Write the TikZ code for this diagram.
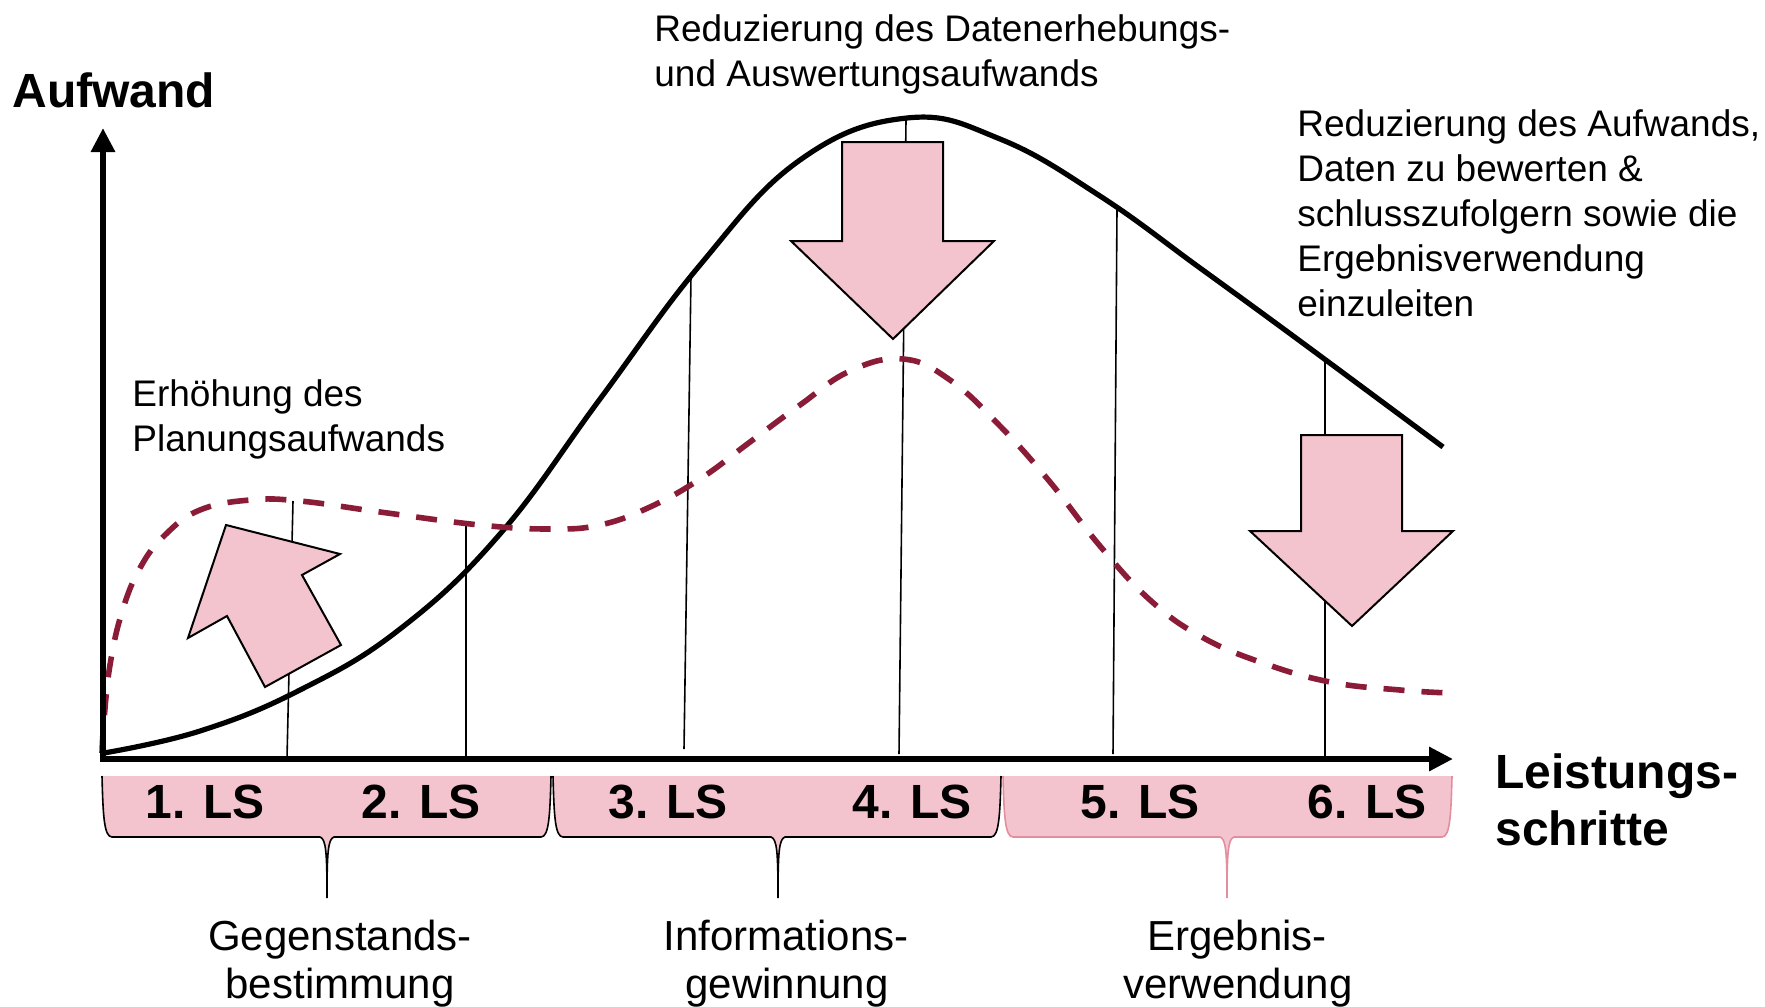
\documentclass[tikz,border=0pt]{standalone}
\usepackage{fontspec}
\setmainfont{Liberation Sans}
\usetikzlibrary{arrows.meta}
\definecolor{pinkfill}{HTML}{F4C4CE}
\definecolor{dashred}{HTML}{8A1C38}
\definecolor{pinkline}{HTML}{E38E9E}
\tikzset{
  axisline/.style={line width=3pt, line join=miter},
  tickline/.style={line width=0.8pt, black},
  solidcurve/.style={line width=2.6pt, black},
  dashcurve/.style={line width=2.8pt, dashred, dash pattern=on 10.5pt off 8.5pt},
  bigarrow/.style={fill=pinkfill, draw=black, line width=1pt, line join=miter},
  note/.style={font=\fontsize{18.5}{21.5}\selectfont, inner sep=0pt, anchor=base west},
  phase/.style={font=\fontsize{21}{24}\selectfont, inner sep=0pt, anchor=base},
  boldlbl/.style={font=\fontsize{24}{27.5}\selectfont\bfseries, inner sep=0pt},
  bracepath/.style={fill=pinkfill, draw=#1, line width=0.8pt}
}
\newcommand\lsbrace[4]{%
  \path[bracepath=#4] (#1,776) .. controls (#1+1,815) and (#1+2,837) .. (#1+10,837)
    -- (#3-7,837) .. controls (#3-1,839) and (#3,852) .. (#3,898)
    .. controls (#3,852) and (#3+1,839) .. (#3+7,837)
    -- (#2-10,837) .. controls (#2-2,837) and (#2-1,815) .. (#2,776);
}
\begin{document}
\begin{tikzpicture}[x=0.5pt,y=-0.5pt]
\useasboundingbox (0,0) rectangle (1765,1006);

% tick lines
\coordinate (t1a) at (293,501); \coordinate (t1b) at (287,758);
\coordinate (t2a) at (466,526); \coordinate (t2b) at (466,758);
\coordinate (t3a) at (691,276); \coordinate (t3b) at (684,749);
\coordinate (t4a) at (906,119); \coordinate (t4b) at (899,754);
\coordinate (t5a) at (1117,208); \coordinate (t5b) at (1113,754);
\coordinate (t6a) at (1325,358); \coordinate (t6b) at (1325,758);
\foreach \i in {1,...,6} { \draw[tickline] (t\i a) -- (t\i b); }

% solid curve
\draw[solidcurve] plot[smooth, tension=0.7] coordinates {
 (104,753) (200,731) (300,690) (400,629) (500,534) (600,399) (700,265)
 (800,160) (907,118) (1000,139) (1100,196) (1200,268) (1300,341) (1443,447)};

% dashed curve
\draw[dashcurve] plot[smooth, tension=0.7] coordinates {
 (102,753) (104,720) (110,665) (122,612) (140,568) (165,535) (200,510) (250,500)
 (300,501) (380,512) (480,525) (550,529) (600,525) (650,507) (700,479) (750,442)
 (800,405) (850,371) (903,359) (950,380) (1000,426) (1050,482) (1100,546)
 (1150,600) (1200,636) (1260,662) (1330,682) (1400,690) (1450,693)};

% axes
\coordinate (ytip) at (103,128);
\coordinate (orig) at (103,759);
\coordinate (xtip) at (1453,759);
\draw[axisline, {Triangle[length=12pt,width=11.5pt]}-{Triangle[length=12pt,width=11.5pt]}]
  (ytip) -- (orig) -- (xtip);

% pink arrows
\draw[bigarrow] (226,525) -- (340,554) -- (302,575) -- (341,645) -- (265,687) -- (227,616) -- (188,638) -- cycle;
\draw[bigarrow] (842,142) -- (943,142) -- (943,241) -- (994,241) -- (893,339) -- (791,241) -- (842,241) -- cycle;
\draw[bigarrow] (1301,435) -- (1402,435) -- (1402,531) -- (1453,531) -- (1352,626) -- (1250,531) -- (1301,531) -- cycle;

% braces
\lsbrace{102}{551}{327}{black}
\lsbrace{553}{1001}{778}{black}
\lsbrace{1003}{1452}{1227}{pinkline}

% LS labels
\node[boldlbl, anchor=base] (ls1) at (205,818) {1. LS};
\node[boldlbl, anchor=base] (ls2) at (421,818) {2. LS};
\node[boldlbl, anchor=base] (ls3) at (668,818) {3. LS};
\node[boldlbl, anchor=base] (ls4) at (912,818) {4. LS};
\node[boldlbl, anchor=base] (ls5) at (1140,818) {5. LS};
\node[boldlbl, anchor=base] (ls6) at (1367,818) {6. LS};

% axis titles
\node[boldlbl, anchor=base west] (ya) at (12,107) {Aufwand};
\node[boldlbl, anchor=base west] (xa1) at (1495,788) {Leistungs-};
\node[boldlbl, anchor=base west] (xa2) at (1495,845) {schritte};

% phase labels
\node[phase] (p1a) at (340,950) {Gegenstands-};
\node[phase] (p1b) at (340,998) {bestimmung};
\node[phase] (p2a) at (786,950) {Informations-};
\node[phase] (p2b) at (787,998) {gewinnung};
\node[phase] (p3a) at (1237,950) {Ergebnis-};
\node[phase] (p3b) at (1238,998) {verwendung};

% annotations
\node[note] (n1a) at (654,42) {Reduzierung des Datenerhebungs-};
\node[note] (n1b) at (654,87) {und Auswertungsaufwands};
\node[note] (n2a) at (1297,136) {Reduzierung des Aufwands,};
\node[note] (n2b) at (1297,181) {Daten zu bewerten \&};
\node[note] (n2c) at (1297,226) {schlusszufolgern sowie die};
\node[note] (n2d) at (1297,271) {Ergebnisverwendung};
\node[note] (n2e) at (1297,316) {einzuleiten};
\node[note] (n3a) at (132,406) {Erhöhung des};
\node[note] (n3b) at (132,451) {Planungsaufwands};
\end{tikzpicture}
\end{document}
